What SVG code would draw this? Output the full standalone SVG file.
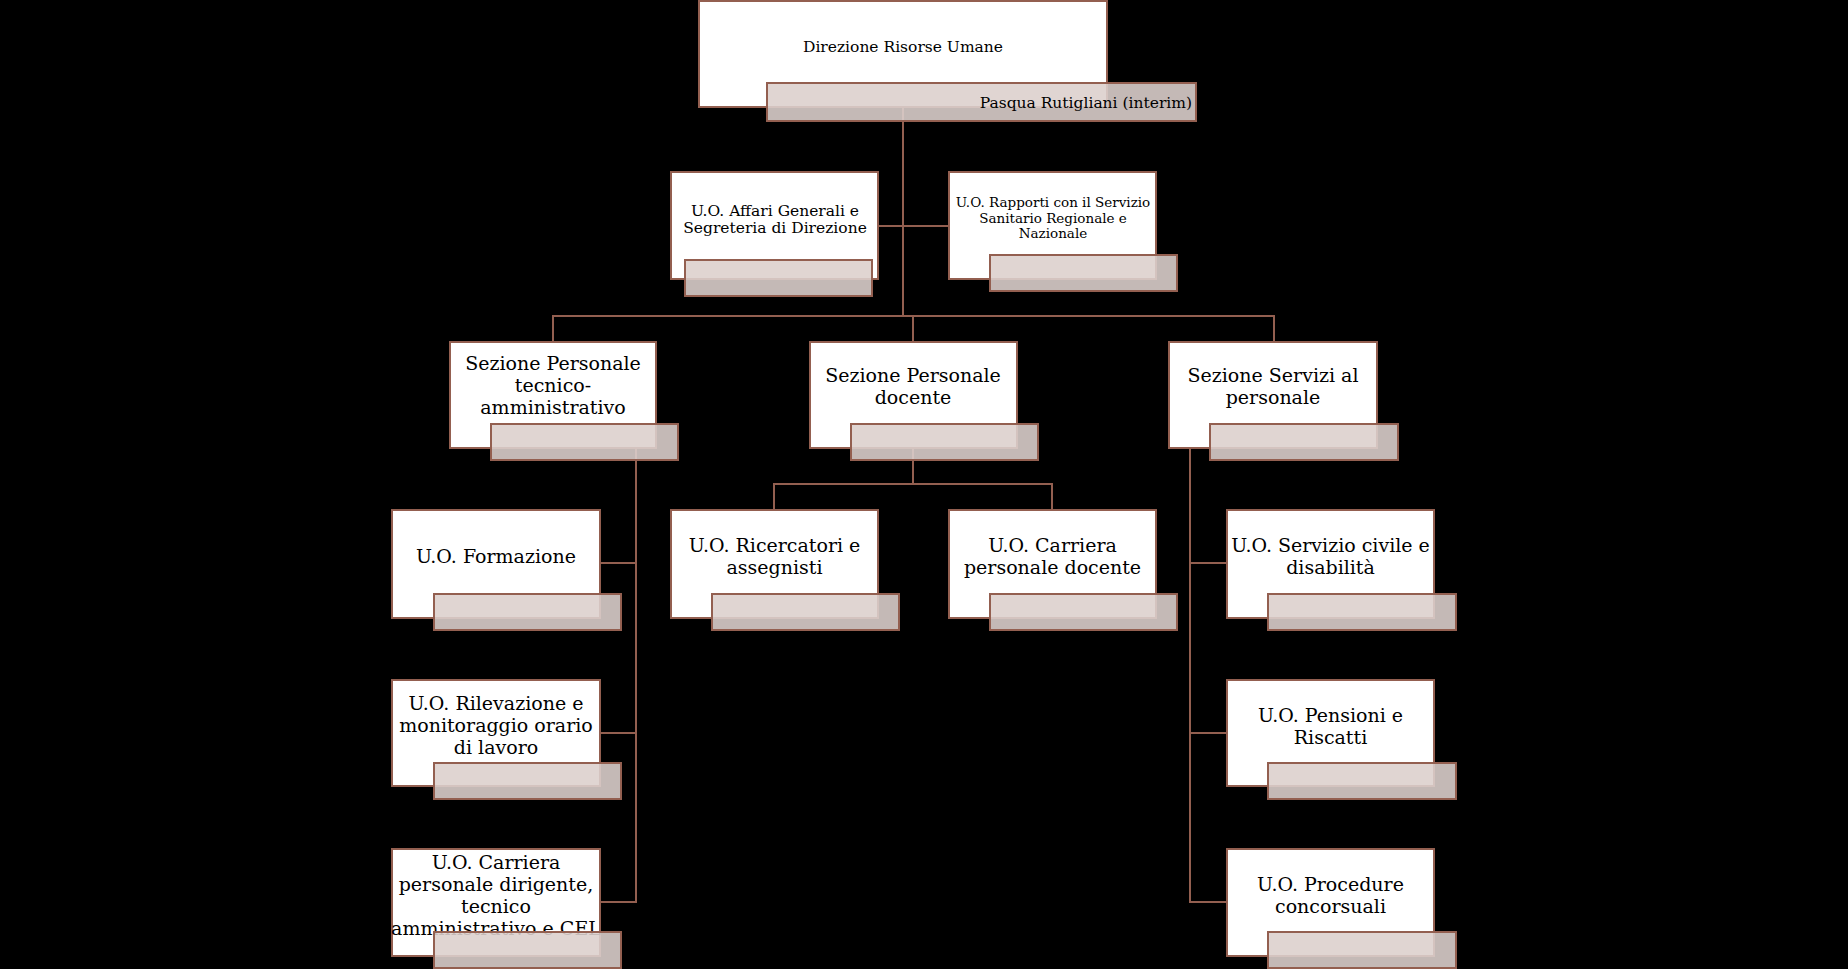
<svg xmlns="http://www.w3.org/2000/svg" width="1848" height="969" viewBox="0 0 1848 969">
<style>
.box{fill:#ffffff;stroke:#935f50;stroke-width:2}
.tag{fill:rgb(220,208,205);fill-opacity:0.89;stroke:#935f50;stroke-width:2}
.conn{fill:none;stroke:#935f50;stroke-width:2}
text{font-family:"DejaVu Serif","Liberation Serif",serif;fill:#000000;text-anchor:middle}
.t19{font-size:19px}
.t15{font-size:15.5px}
.t13{font-size:13.5px}
</style>
<rect x="0" y="0" width="1848" height="969" fill="#000000"/>
<g id="connectors">
<path class="conn" d="M903,107 V316"/>
<path class="conn" d="M878,226 H949"/>
<path class="conn" d="M553,342 V316 H1274 V342"/>
<path class="conn" d="M913,316 V342"/>
<path class="conn" d="M636,448 V902 H600"/>
<path class="conn" d="M636,563 H600"/>
<path class="conn" d="M636,733 H600"/>
<path class="conn" d="M913,448 V484"/>
<path class="conn" d="M774,510 V484 H1052 V510"/>
<path class="conn" d="M1190,448 V902 H1227"/>
<path class="conn" d="M1190,563 H1227"/>
<path class="conn" d="M1190,733 H1227"/>
</g>
<g id="n-direzione">
<rect class="box" x="699" y="1" width="408" height="106"/>
<rect class="tag" x="767" y="83" width="429" height="38"/>
<text class="t15" x="903" y="52">Direzione Risorse Umane</text>
<text class="t15" x="1192" y="108" style="text-anchor:end">Pasqua Rutigliani (interim)</text>
</g>
<g id="n-affari">
<rect class="box" x="671" y="172" width="207" height="107"/>
<rect class="tag" x="685" y="260" width="187" height="36"/>
<text class="t15" x="775" y="216">U.O. Affari Generali e</text>
<text class="t15" x="775" y="233">Segreteria di Direzione</text>
</g>
<g id="n-rapporti">
<rect class="box" x="949" y="172" width="207" height="107"/>
<rect class="tag" x="990" y="255" width="187" height="36"/>
<text class="t13" x="1053" y="207">U.O. Rapporti con il Servizio</text>
<text class="t13" x="1053" y="223">Sanitario Regionale e</text>
<text class="t13" x="1053" y="238">Nazionale</text>
</g>
<g id="n-sez-tecnico">
<rect class="box" x="450" y="342" width="206" height="106"/>
<rect class="tag" x="491" y="424" width="187" height="36"/>
<text class="t19" x="553" y="370">Sezione Personale</text>
<text class="t19" x="553" y="392">tecnico-</text>
<text class="t19" x="553" y="414">amministrativo</text>
</g>
<g id="n-sez-docente">
<rect class="box" x="810" y="342" width="207" height="106"/>
<rect class="tag" x="851" y="424" width="187" height="36"/>
<text class="t19" x="913" y="382">Sezione Personale</text>
<text class="t19" x="913" y="404">docente</text>
</g>
<g id="n-sez-servizi">
<rect class="box" x="1169" y="342" width="208" height="106"/>
<rect class="tag" x="1210" y="424" width="188" height="36"/>
<text class="t19" x="1273" y="382">Sezione Servizi al</text>
<text class="t19" x="1273" y="404">personale</text>
</g>
<g id="n-formazione">
<rect class="box" x="392" y="510" width="208" height="108"/>
<rect class="tag" x="434" y="594" width="187" height="36"/>
<text class="t19" x="496" y="563">U.O. Formazione</text>
</g>
<g id="n-rilevazione">
<rect class="box" x="392" y="680" width="208" height="106"/>
<rect class="tag" x="434" y="763" width="187" height="36"/>
<text class="t19" x="496" y="710">U.O. Rilevazione e</text>
<text class="t19" x="496" y="732">monitoraggio orario</text>
<text class="t19" x="496" y="754">di lavoro</text>
</g>
<g id="n-carriera-dirigente">
<rect class="box" x="392" y="849" width="208" height="107"/>
<text class="t19" x="496" y="869">U.O. Carriera</text>
<text class="t19" x="496" y="891">personale dirigente,</text>
<text class="t19" x="496" y="913">tecnico</text>
<text class="t19" x="496" y="935">amministrativo e CEL</text>
<rect class="tag" x="434" y="932" width="187" height="36"/>
</g>
<g id="n-ricercatori">
<rect class="box" x="671" y="510" width="207" height="108"/>
<rect class="tag" x="712" y="594" width="187" height="36"/>
<text class="t19" x="774.5" y="552">U.O. Ricercatori e</text>
<text class="t19" x="774.5" y="574">assegnisti</text>
</g>
<g id="n-carriera-docente">
<rect class="box" x="949" y="510" width="207" height="108"/>
<rect class="tag" x="990" y="594" width="187" height="36"/>
<text class="t19" x="1052.5" y="552">U.O. Carriera</text>
<text class="t19" x="1052.5" y="574">personale docente</text>
</g>
<g id="n-servizio-civile">
<rect class="box" x="1227" y="510" width="207" height="108"/>
<rect class="tag" x="1268" y="594" width="188" height="36"/>
<text class="t19" x="1330.5" y="552">U.O. Servizio civile e</text>
<text class="t19" x="1330.5" y="574">disabilità</text>
</g>
<g id="n-pensioni">
<rect class="box" x="1227" y="680" width="207" height="106"/>
<rect class="tag" x="1268" y="763" width="188" height="36"/>
<text class="t19" x="1330.5" y="722">U.O. Pensioni e</text>
<text class="t19" x="1330.5" y="744">Riscatti</text>
</g>
<g id="n-procedure">
<rect class="box" x="1227" y="849" width="207" height="107"/>
<rect class="tag" x="1268" y="932" width="188" height="36"/>
<text class="t19" x="1330.5" y="891">U.O. Procedure</text>
<text class="t19" x="1330.5" y="913">concorsuali</text>
</g>
</svg>
